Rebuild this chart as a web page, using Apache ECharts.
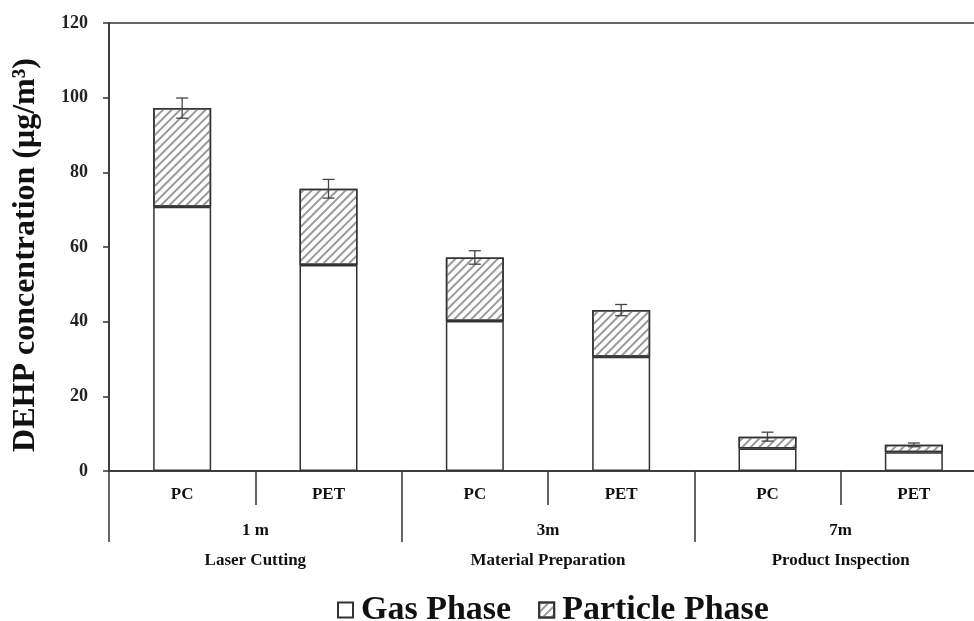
<!DOCTYPE html>
<html>
<head>
<meta charset="utf-8">
<script src="https://cdn.jsdelivr.net/npm/echarts@6/dist/echarts.min.js"></script>
<style>
html,body{margin:0;padding:0;background:#fff;}
#c{width:974px;height:621px;}
</style>
</head>
<body>
<div id="c"></div>
<script>
const materials = ['PC', 'PET', 'PC', 'PET', 'PC', 'PET'];
const groups = ['1 m', '3m', '7m'];
const groupNames = ['Laser Cutting', 'Material Preparation', 'Product Inspection'];
const gasPhase = [70.8, 55.2, 40.2, 30.6, 6.0, 5.0];
const particlePhase = [26.4, 20.4, 17.0, 12.5, 3.2, 2.0];
const errors = [2.7, 2.5, 1.8, 1.5, 1.2, 0.5];
const yTicks = [0, 20, 40, 60, 80, 100, 120];

const FONT = '"Liberation Serif", "Times New Roman", serif';
const INK = '#333';

const totals = gasPhase.map((g, i) => g + particlePhase[i]);
const errData = totals.map((t, i) => [i, t, errors[i]]);

const chart = echarts.init(document.getElementById('c'));
chart.setOption({
  animation: false,
  backgroundColor: '#fff',
  grid: {
    left: 109, top: 23, height: 448, width: 878,
    outerBoundsMode: 'none', containLabel: false,
    show: true, borderColor: INK, borderWidth: 1.5, backgroundColor: 'transparent'
  },
  legend: {
    data: ['Gas Phase', 'Particle Phase'],
    left: 332, top: 588,
    itemWidth: 15, itemHeight: 15, itemGap: 27,
    icon: 'rect',
    textStyle: { fontFamily: FONT, fontWeight: 'bold', fontSize: 34, color: '#111', padding: [0, 0, 0, 3] }
  },
  xAxis: [
    {
      type: 'category', position: 'bottom', data: materials,
      axisLine: { show: true, lineStyle: { color: INK, width: 1.5 } },
      axisTick: { show: true, interval: 0, length: 34, lineStyle: { color: INK, width: 1.5 } },
      axisLabel: { show: true, interval: 0, fontFamily: FONT, fontWeight: 'bold', fontSize: 17, color: '#111', margin: 15 }
    },
    {
      type: 'category', position: 'bottom',
      data: groups.map((g, i) => g + '\n' + groupNames[i]),
      axisLine: { show: false },
      axisTick: { show: true, interval: 0, length: 71, lineStyle: { color: INK, width: 1.5 } },
      axisLabel: { show: true, interval: 0, fontFamily: FONT, fontWeight: 'bold', fontSize: 17, color: '#111', margin: 45, lineHeight: 30 }
    }
  ],
  yAxis: {
    type: 'value', min: yTicks[0], max: yTicks[yTicks.length - 1], interval: 20,
    name: 'DEHP concentration (μg/m³)',
    nameLocation: 'middle', nameGap: 67,
    nameTextStyle: { fontFamily: FONT, fontWeight: 'bold', fontSize: 32, color: '#111', padding: [0, 16, 0, 0] },
    axisLine: { show: true, lineStyle: { color: INK, width: 1.5 } },
    axisTick: { show: true, length: 6, lineStyle: { color: INK, width: 1.5 } },
    splitLine: { show: false },
    axisLabel: { fontFamily: FONT, fontWeight: 'bold', fontSize: 18, color: '#222', margin: 21 }
  },
  series: [
    {
      name: 'Gas Phase', type: 'bar', stack: 'total', barWidth: 58,
      data: gasPhase,
      itemStyle: { color: '#fff', borderColor: INK, borderWidth: 1.5 }
    },
    {
      name: 'Particle Phase', type: 'bar', stack: 'total', barWidth: 58,
      data: particlePhase,
      itemStyle: {
        color: '#fff', borderColor: INK, borderWidth: 1.5,
        decal: {
          symbol: 'rect', symbolSize: 1,
          dashArrayX: [1, 0], dashArrayY: [1.2, 3.3],
          rotation: -Math.PI / 4,
          color: '#9a9a9a'
        }
      }
    },
    {
      name: 'err', type: 'custom', z: 10,
      data: errData,
      renderItem: function (params, api) {
        const x = api.value(0), v = api.value(1), e = api.value(2);
        const hi = api.coord([x, v + e]);
        const lo = api.coord([x, v - e]);
        const w = 6;
        const style = { stroke: '#444', lineWidth: 1.3 };
        return {
          type: 'group',
          children: [
            { type: 'line', shape: { x1: hi[0], y1: hi[1], x2: lo[0], y2: lo[1] }, style },
            { type: 'line', shape: { x1: hi[0] - w, y1: hi[1], x2: hi[0] + w, y2: hi[1] }, style },
            { type: 'line', shape: { x1: lo[0] - w, y1: lo[1], x2: lo[0] + w, y2: lo[1] }, style }
          ]
        };
      }
    }
  ]
});
</script>
</body>
</html>
